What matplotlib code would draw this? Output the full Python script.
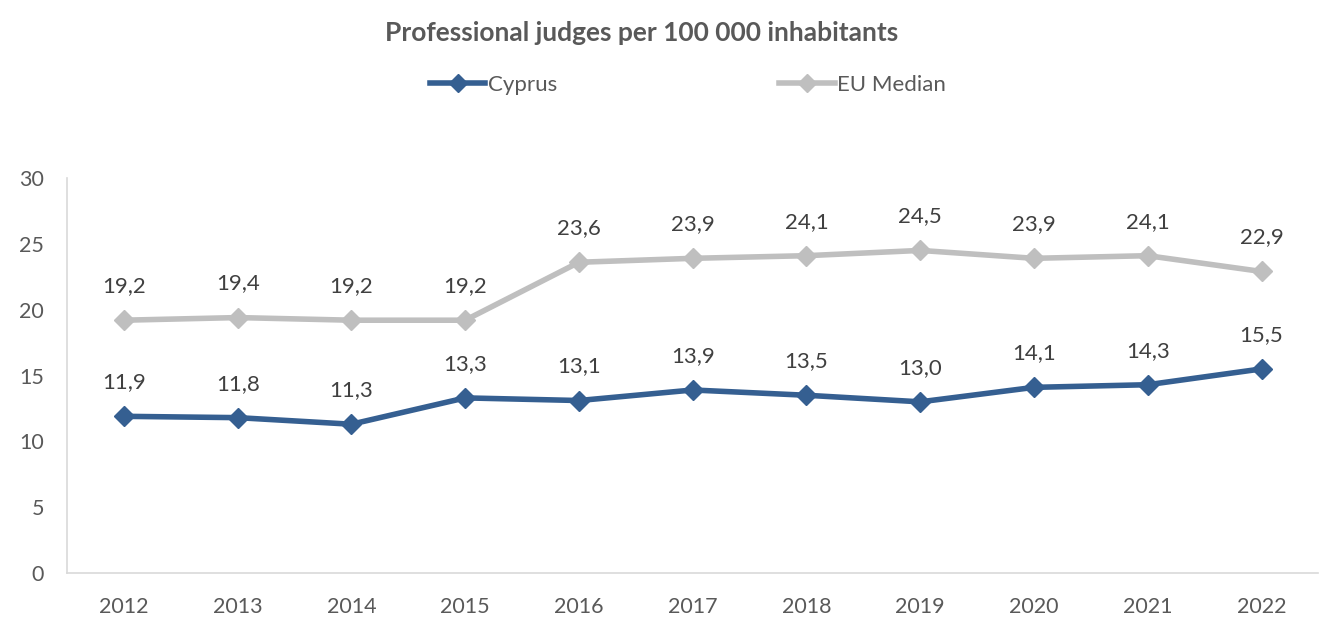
import matplotlib.pyplot as plt
from matplotlib.lines import Line2D

years = [2012, 2013, 2014, 2015, 2016, 2017, 2018, 2019, 2020, 2021, 2022]
cyprus = [11.9, 11.8, 11.3, 13.3, 13.1, 13.9, 13.5, 13.0, 14.1, 14.3, 15.5]
eu_median = [19.2, 19.4, 19.2, 19.2, 23.6, 23.9, 24.1, 24.5, 23.9, 24.1, 22.9]

blue = '#355f91'
grey = '#bfbfbf'
txt = '#404040'

plt.rcParams['font.family'] = ['Lato', 'DejaVu Sans']

fig = plt.figure(figsize=(13.2, 6.17), dpi=100)
ax = fig.add_axes([0.0508, 0.0713, 0.948, 0.6402])

ax.plot(years, eu_median, color=grey, lw=4, marker='D', ms=10, zorder=2)
ax.plot(years, cyprus, color=blue, lw=4, marker='D', ms=10, zorder=3)

for x, y in zip(years, eu_median):
    ax.annotate(f'{y:.1f}'.replace('.', ','), (x, y), xytext=(0, 24.5),
                textcoords='offset points', ha='center', va='center',
                fontsize=16, color=txt)
for x, y in zip(years, cyprus):
    ax.annotate(f'{y:.1f}'.replace('.', ','), (x, y), xytext=(0, 24.5),
                textcoords='offset points', ha='center', va='center',
                fontsize=16, color=txt)

ax.set_xlim(2011.5, 2022.5)
ax.set_ylim(0, 30)
ax.set_xticks(years)
ax.set_yticks(range(0, 31, 5))
ax.tick_params(length=0, labelsize=15.5, colors='#595959')
ax.tick_params(axis='x', pad=17)
ax.tick_params(axis='y', pad=16.5)
for s in ['top', 'right']:
    ax.spines[s].set_visible(False)
for s in ['left', 'bottom']:
    ax.spines[s].set_color('#d9d9d9')
    ax.spines[s].set_linewidth(1.2)

fig.text(0.486, 0.946, 'Professional judges per 100 000 inhabitants',
         ha='center', va='center', fontsize=19, fontweight='bold', color='#595959')

handles = [Line2D([], [], color=blue, lw=4, marker='D', ms=9),
           Line2D([], [], color=grey, lw=4, marker='D', ms=9)]
fig.legend(handles, ['Cyprus', 'EU Median'], loc='center', bbox_to_anchor=(0.521, 0.862),
           ncol=2, frameon=False, fontsize=16, handlelength=2.5, handletextpad=0.1,
           columnspacing=10, labelcolor='#595959')

fig.savefig('out.png', dpi=100)
